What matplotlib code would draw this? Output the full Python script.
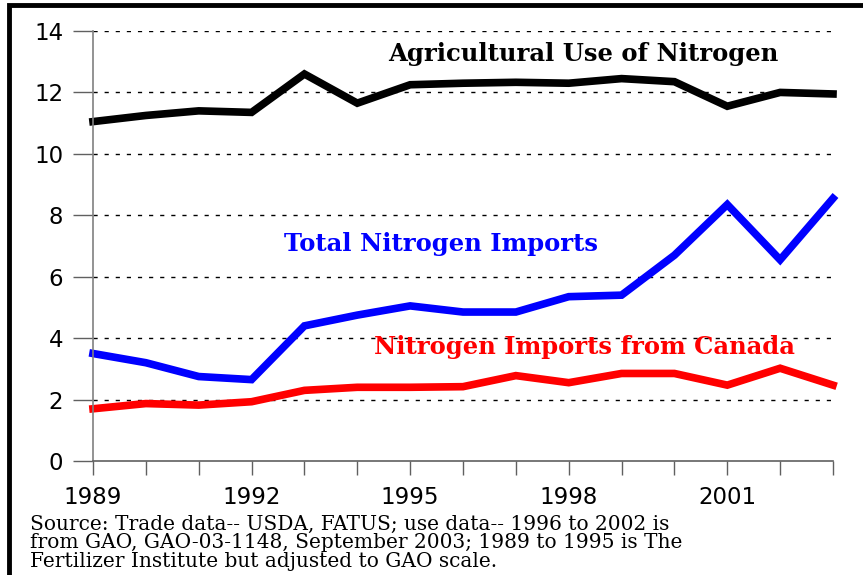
import matplotlib.pyplot as plt
from matplotlib.lines import Line2D
from matplotlib.ticker import MultipleLocator
import numpy as np

# ----------------------------------------------------------
# Data (million tons)
# ----------------------------------------------------------
years = list(range(1989, 2004))
ag_use = [11.05, 11.25, 11.4, 11.35, 12.6, 11.65, 12.25, 12.3, 12.33, 12.3,
          12.45, 12.35, 11.55, 12.0, 11.95]
total_imports = [3.5, 3.2, 2.75, 2.65, 4.4, 4.75, 5.05, 4.85, 4.85, 5.35,
                 5.4, 6.7, 8.35, 6.55, 8.55]
canada_imports = [1.7, 1.87, 1.82, 1.93, 2.3, 2.4, 2.4, 2.42, 2.78, 2.55,
                  2.85, 2.85, 2.47, 3.02, 2.47]

source_lines = ["Source: Trade data-- USDA, FATUS; use data-- 1996 to 2002 is",
                "from GAO, GAO-03-1148, September 2003; 1989 to 1995 is The",
                "Fertilizer Institute but adjusted to GAO scale."]

# ----------------------------------------------------------
# Figure
# ----------------------------------------------------------
W, H = 863, 575
fig = plt.figure(figsize=(W / 100, H / 100), dpi=100)
ax = fig.add_axes([93 / W, 1 - 461 / H, (833 - 93) / W, (461 - 31) / H])

ax.plot(years, ag_use, color="black", lw=5.5, solid_joinstyle="miter", clip_on=False)
ax.plot(years, total_imports, color="#0000ff", lw=5.5, solid_joinstyle="miter", clip_on=False)
ax.plot(years, canada_imports, color="#ff0000", lw=5.5, solid_joinstyle="miter", clip_on=False)

ax.set_xlim(1989, 2003)
ax.set_ylim(0, 14)
ax.set_yticks(np.arange(0, 15, 2))
ax.xaxis.set_major_locator(MultipleLocator(3))
ax.xaxis.set_minor_locator(MultipleLocator(1))

for s in ["top", "right"]:
    ax.spines[s].set_visible(False)
ax.spines["left"].set_color("#808080")
ax.spines["bottom"].set_color("#606060")
ax.spines["left"].set_linewidth(1.2)
ax.spines["bottom"].set_linewidth(1.2)

ax.tick_params(axis="y", direction="out", length=14.4, width=1, color="#606060",
               pad=7, labelsize=16.5)
ax.tick_params(axis="x", which="both", direction="out", length=10, width=1,
               color="#606060", pad=8, labelsize=16.5)
for lab in ax.get_xticklabels() + ax.get_yticklabels():
    lab.set_fontfamily("DejaVu Sans")

# dotted horizontal grid
for yv in range(2, 15, 2):
    ax.axhline(yv, color="black", lw=1, ls=(0, (3, 5)), zorder=0.5)

# series labels
lab_font = dict(family="DejaVu Serif", fontweight="bold", fontsize=17.5, va="center")
ax.text(1994.58, 13.25, "Agricultural Use of Nitrogen", color="black", **lab_font)
ax.text(1992.61, 7.07, "Total Nitrogen Imports", color="#0000ff", **lab_font)
ax.text(1994.32, 3.72, "Nitrogen Imports from Canada", color="#ff0000", **lab_font)

# source note, one line at a time
for i, line in enumerate(source_lines):
    fig.text(30 / W, 1 - (530 + 18.5 * i) / H, line, family="DejaVu Serif",
             fontsize=14.5, va="baseline", ha="left")

# frame around the panel (top and left edges visible)
fig.add_artist(Line2D([9 / W, 9 / W, 1.01], [-0.01, 1 - 5 / H, 1 - 5 / H],
                      transform=fig.transFigure, color="black", lw=3.5,
                      solid_joinstyle="miter"))

fig.savefig("out.png", dpi=100)
